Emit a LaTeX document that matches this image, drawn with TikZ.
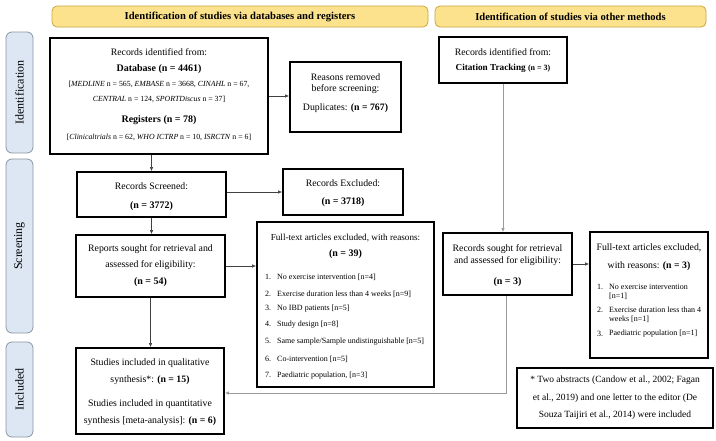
\documentclass[tikz,border=0pt]{standalone}
\usepackage{fontspec}
\setmainfont{Liberation Serif}
\usetikzlibrary{arrows.meta}
\definecolor{bannerfill}{HTML}{FCE28C}
\definecolor{bannerdraw}{HTML}{C9A640}
\definecolor{sidefill}{HTML}{DDE7F3}
\definecolor{sidedraw}{HTML}{8A96A3}
\definecolor{arr}{HTML}{404040}
\definecolor{arrlight}{HTML}{9A9A9A}
\begin{document}
\begin{tikzpicture}[x=1pt,y=-1pt,
  box/.style={draw=black, line width=1.8pt, inner sep=0pt},
  banner/.style={draw=bannerdraw, fill=bannerfill, rounded corners=5pt, line width=0.8pt, inner sep=0pt, minimum height=21pt, font=\bfseries\fontsize{10.6}{12}\selectfont},
  side/.style={draw=sidedraw, fill=sidefill, rounded corners=6pt, line width=0.8pt, inner sep=0pt, rotate=90, minimum height=27pt, font=\fontsize{12}{14}\selectfont},
  txt/.style={inner sep=0pt, font=\fontsize{9.8}{11}\selectfont},
  btxt/.style={inner sep=0pt, font=\bfseries\fontsize{10}{12}\selectfont},
  small/.style={inner sep=0pt, font=\fontsize{7.8}{9}\selectfont},
  item/.style={inner sep=0pt, anchor=west, font=\fontsize{8}{9}\selectfont},
  arrow/.style={draw=arr, line width=0.6pt, -{Latex[length=4pt,width=3.5pt]}},
  larrow/.style={draw=arrlight, line width=0.7pt, -{Latex[length=4pt,width=3.5pt]}},
]
\useasboundingbox (0,0) rectangle (716,440);

% banners
\node[banner, minimum width=376pt] (bl) at (240,16.5) {Identification of studies via databases and registers};
\node[banner, minimum width=271pt] (br) at (570.5,16.5) {Identification of studies via other methods};

% side labels
\node[side, minimum width=121pt] (sid) at (19.5,92.5) {Identification};
\node[side, minimum width=174pt] (ssc) at (19.5,246) {Screening};
\node[side, minimum width=95pt] (sin) at (19.5,389.5) {Included};

% boxes
\node[box, minimum width=218pt, minimum height=116pt] (rec) at (159,96) {};
\node[box, minimum width=111pt, minimum height=70pt] (dup) at (345.5,97) {};
\node[box, minimum width=128pt, minimum height=46pt] (cit) at (503,60) {};
\node[box, minimum width=149pt, minimum height=45pt] (scr) at (151.5,194.5) {};
\node[box, minimum width=120pt, minimum height=46pt] (exc) at (343,192) {};
\node[box, minimum width=149pt, minimum height=62pt] (rep) at (150.5,266) {};
\node[box, minimum width=177pt, minimum height=165pt] (ftl) at (345.5,304.5) {};
\node[box, minimum width=129pt, minimum height=62pt] (rsr) at (507.5,264) {};
\node[box, minimum width=118pt, minimum height=126pt] (ftr) at (649,295) {};
\node[box, minimum width=148pt, minimum height=86pt] (inc) at (150,391) {};
\node[box, minimum width=196pt, minimum height=60pt] (note) at (615,398) {};

% rec text
\node[txt] (rec1) at (159,52) {Records identified from:};
\node[btxt] (rec2) at (159,69) {Database (n = 4461)};
\node[small] (rec3) at (159,84) {[\textit{MEDLINE} n = 565, \textit{EMBASE} n = 3668, \textit{CINAHL} n = 67,};
\node[small] (rec4) at (159,99) {\textit{CENTRAL} n = 124, \textit{SPORTDiscus} n = 37]};
\node[btxt] (rec5) at (159,120) {Registers (n = 78)};
\node[small] (rec6) at (159,137) {[\textit{Clinicaltrials} n = 62, \textit{WHO ICTRP} n = 10, \textit{ISRCTN} n = 6]};

% dup text
\node[txt] (dup1) at (345.5,77) {Reasons removed};
\node[txt] (dup2) at (345.5,89) {before screening:};
\node[txt] (dup3) at (345.5,108) {Duplicates: \textbf{(n = 767)}};

% citation
\node[txt] (cit1) at (503,52) {Records identified from:};
\node[btxt, font=\bfseries\fontsize{9.2}{11}\selectfont] (cit2) at (503,68) {Citation Tracking {\fontsize{8}{10}\selectfont(n = 3)}};

% screened / excluded
\node[txt] (scr1) at (151.5,186) {Records Screened:};
\node[btxt] (scr2) at (151.5,206) {(n = 3772)};
\node[txt] (exc1) at (343,183) {Records Excluded:};
\node[btxt] (exc2) at (343,202) {(n = 3718)};

% reports
\node[txt] (rep1) at (150.5,249) {Reports sought for retrieval and};
\node[txt] (rep2) at (150.5,265) {assessed for eligibility:};
\node[btxt] (rep3) at (150.5,282) {(n = 54)};

% full-text left
\node[txt, font=\fontsize{9.2}{11}\selectfont] (ftl0) at (345.5,238) {Full-text articles excluded, with reasons:};
\node[btxt] (ftl00) at (345.5,254) {(n = 39)};
\node[item] (fl1) at (265,277) {1.\hspace{6pt}No exercise intervention [n=4]};
\node[item] (fl2) at (265,294) {2.\hspace{6pt}Exercise duration less than 4 weeks [n=9]};
\node[item] (fl3) at (265,309) {3.\hspace{6pt}No IBD patients [n=5]};
\node[item] (fl4) at (265,325) {4.\hspace{6pt}Study design [n=8]};
\node[item] (fl5) at (265,342) {5.\hspace{6pt}Same sample/Sample undistinguishable [n=5]};
\node[item] (fl6) at (265,359) {6.\hspace{6pt}Co-intervention [n=5]};
\node[item] (fl7) at (265,376) {7.\hspace{6pt}Paediatric population, [n=3]};

% records sought right
\node[txt] (rsr1) at (507.5,249) {Records sought for retrieval};
\node[txt] (rsr2) at (507.5,261) {and assessed for eligibility:};
\node[btxt] (rsr3) at (507.5,282) {(n = 3)};

% full-text right
\node[txt] (ftr1) at (649,248) {Full-text articles excluded,};
\node[txt] (ftr2) at (649,266) {with reasons: \textbf{(n = 3)}};
\node[item] (fr1n) at (597,287) {1.};
\node[item] (fr1) at (609,287) {No exercise intervention};
\node[item] (fr1b) at (609,296) {[n=1]};
\node[item] (fr2n) at (597,310) {2.};
\node[item] (fr2) at (609,310) {Exercise duration less than 4};
\node[item] (fr2b) at (609,319) {weeks [n=1]};
\node[item] (fr3n) at (597,334) {3.};
\node[item] (fr3) at (609,334) {Paediatric population [n=1]};

% included
\node[txt] (inc1) at (150,363) {Studies included in qualitative};
\node[txt] (inc2) at (150,380) {synthesis*: \textbf{(n = 15)}};
\node[txt] (inc3) at (150,404) {Studies included in quantitative};
\node[txt] (inc4) at (150,421) {synthesis [meta-analysis]: \textbf{(n = 6)}};

% note
\node[txt, font=\fontsize{9.5}{11}\selectfont] (note1) at (615,380) {* Two abstracts (Candow et al., 2002; Fagan};
\node[txt, font=\fontsize{9.5}{11}\selectfont] (note2) at (615,398) {et al., 2019) and one letter to the editor (De};
\node[txt, font=\fontsize{9.5}{11}\selectfont] (note3) at (615,415) {Souza Taijiri et al., 2014) were included};

% connectors
\draw[arrow] (rec.east) -- (rec.east -| dup.west);
\draw[arrow] (scr.north |- rec.south) -- (scr.north);
\draw[arrow] (exc.west -| scr.east) -- (exc.west);
\draw[arrow] (scr.south) -- (scr.south |- rep.north);
\draw[arrow] (rep.east) -- (rep.east -| ftl.west);
\draw[arrow] (rep.south) -- (rep.south |- inc.north);
\draw[larrow] (cit.south) -- (cit.south |- rsr.north);
\draw[arrow] (rsr.east) -- (rsr.east -| ftr.west);
\coordinate (turn) at (506,393);
\draw[larrow] (turn |- rsr.south) -- (turn) -- (turn -| inc.east);
\end{tikzpicture}
\end{document}
